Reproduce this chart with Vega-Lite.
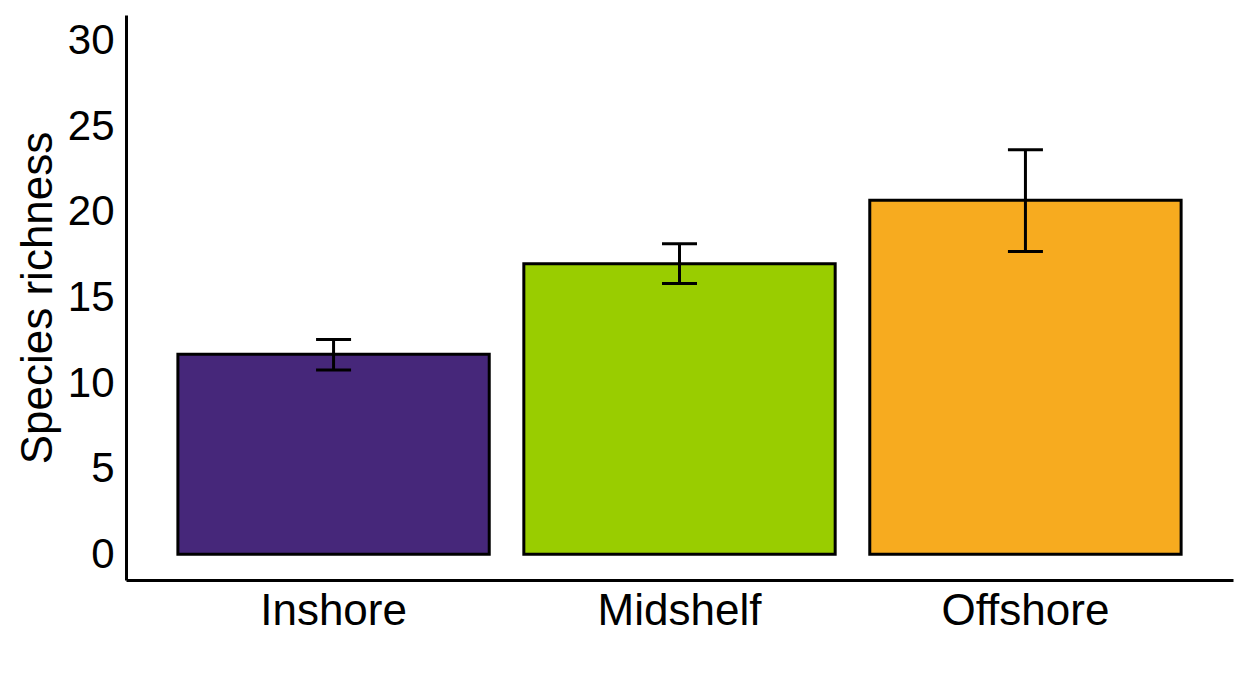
{
  "$schema": "https://vega.github.io/schema/vega-lite/v6.json",
  "width": 1107,
  "height": 565,
  "autosize": {"type": "none"},
  "padding": {"left": 126, "top": 15, "right": 9, "bottom": 112},
  "background": "white",
  "config": {
    "view": {"stroke": null},
    "font": "Liberation Sans"
  },
  "data": {
    "values": [
      {"zone": "Inshore", "richness": 11.68, "lower": 10.76, "upper": 12.54},
      {"zone": "Midshelf", "richness": 16.97, "lower": 15.82, "upper": 18.14},
      {"zone": "Offshore", "richness": 20.68, "lower": 17.69, "upper": 23.63}
    ]
  },
  "encoding": {
    "x": {
      "field": "zone",
      "type": "nominal",
      "sort": ["Inshore", "Midshelf", "Offshore"],
      "scale": {"paddingInner": 0.1, "paddingOuter": 0.15},
      "axis": {
        "title": null,
        "labelAngle": 0,
        "labelFontSize": 44,
        "labelColor": "black",
        "labelPadding": 9,
        "ticks": false,
        "tickSize": 0,
        "domainColor": "black",
        "domainWidth": 3
      }
    }
  },
  "layer": [
    {
      "mark": {"type": "bar", "stroke": "black", "strokeWidth": 3},
      "encoding": {
        "y": {
          "field": "richness",
          "type": "quantitative",
          "scale": {"domain": [-1.5, 31.5], "nice": false, "zero": false},
          "axis": {
            "title": "Species richness",
            "titleFontSize": 44,
            "titleFontWeight": "normal",
            "titleColor": "black",
            "titlePadding": 7,
            "values": [0, 5, 10, 15, 20, 25, 30],
            "labelFontSize": 42,
            "labelColor": "black",
            "labelPadding": 12,
            "ticks": false,
            "tickSize": 0,
            "grid": false,
            "domainColor": "black",
            "domainWidth": 3
          }
        },
        "y2": {"datum": 0},
        "fill": {
          "field": "zone",
          "type": "nominal",
          "scale": {"domain": ["Inshore", "Midshelf", "Offshore"], "range": ["#46277A", "#99CD00", "#F7AB1F"]},
          "legend": null
        }
      }
    },
    {
      "mark": {"type": "rule", "color": "black", "strokeWidth": 3},
      "encoding": {
        "y": {"field": "lower", "type": "quantitative"},
        "y2": {"field": "upper"}
      }
    },
    {
      "mark": {"type": "tick", "color": "black", "size": 35, "thickness": 3, "opacity": 1},
      "encoding": {
        "y": {"field": "lower", "type": "quantitative"}
      }
    },
    {
      "mark": {"type": "tick", "color": "black", "size": 35, "thickness": 3, "opacity": 1},
      "encoding": {
        "y": {"field": "upper", "type": "quantitative"}
      }
    }
  ]
}
